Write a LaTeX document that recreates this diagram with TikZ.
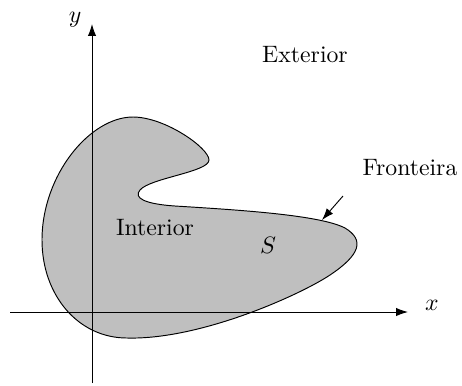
\documentclass[tikz,border=0pt]{standalone}
\usetikzlibrary{arrows.meta}
\begin{document}
\begin{tikzpicture}[x=0.0148cm,y=-0.0148cm,
  axis/.style={line width=0.4pt,-{Latex[length=5pt,width=3.5pt]}},
  lbl/.style={inner sep=0pt}]
\useasboundingbox (0,0) rectangle (462,385);
\draw[fill=gray!50,line width=0.4pt]
 (133,117) .. controls (165,117) and (209,148) .. (209,160)
 .. controls (209,172) and (150,178) .. (140,190)
 .. controls (133,198) and (145,204) .. (175,206)
 .. controls (240,210) and (320,215) .. (345,228)
 .. controls (365,240) and (360,255) .. (330,275)
 .. controls (300,295) and (200,340) .. (127,338)
 .. controls (78,338) and (42,295) .. (42,240)
 .. controls (42,175) and (90,117) .. (133,117) -- cycle;
\coordinate (xs) at (10,312);
\coordinate (xe) at (408,312);
\coordinate (ys) at (92,383);
\coordinate (ye) at (92,24);
\draw[axis] (xs) -- (xe);
\draw[axis] (ys) -- (ye);
\node[lbl] (xl) at (432,305) {$x$};
\node[lbl] (yl) at (75,20) {$y$};
\node[lbl] (ext) at (305,55) {Exterior};
\node[lbl] (fr) at (410,168) {Fronteira};
\node[lbl] (int) at (155,228) {Interior};
\node[lbl] (s) at (268,245) {$S$};
\coordinate (fa) at (343,196);
\coordinate (fb) at (322,220);
\draw[-{Latex[length=5pt,width=3.5pt]}] (fa) -- (fb);
\end{tikzpicture}
\end{document}
